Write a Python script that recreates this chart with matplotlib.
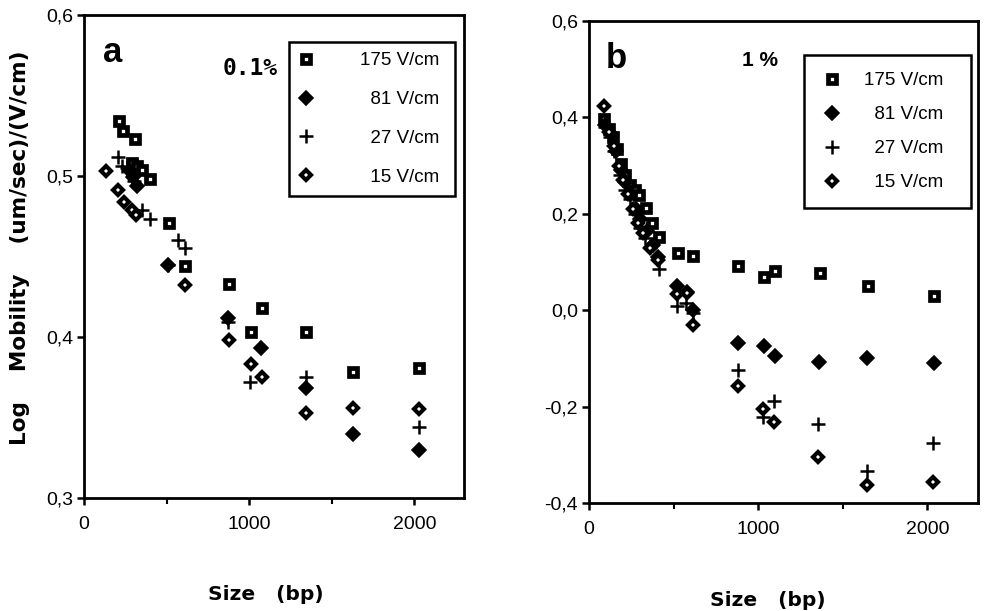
import matplotlib
matplotlib.use('Agg')
import matplotlib.pyplot as plt
from matplotlib.ticker import MultipleLocator, FuncFormatter

plt.rcParams['font.family'] = ['Liberation Sans', 'DejaVu Sans']

# ---- panel a : 0.1 % ----
a_175_bp = [212, 234, 289, 309, 319, 353, 402, 517, 612, 879, 1012, 1077, 1343, 1626, 2026]
a_175_mob = [0.534, 0.528, 0.508, 0.523, 0.506, 0.504, 0.498, 0.471, 0.444, 0.433, 0.403, 0.418, 0.403, 0.378, 0.381]

a_81_bp = [279, 297, 318, 511, 869, 1073, 1343, 1626, 2026]
a_81_mob = [0.503, 0.4996, 0.494, 0.445, 0.412, 0.393, 0.368, 0.340, 0.330]

a_27_bp = [208, 228, 262, 300, 350, 400, 511, 572, 612, 869, 1006, 1343, 2026]
a_27_mob = [0.512, 0.506, 0.505, 0.497, 0.479, 0.473, 0.445, 0.460, 0.455, 0.409, 0.372, 0.375, 0.344]

a_15_bp = [133, 204, 242, 289, 315, 612, 875, 1012, 1075, 1343, 1626, 2026]
a_15_mob = [0.503, 0.491, 0.484, 0.479, 0.476, 0.432, 0.398, 0.383, 0.375, 0.353, 0.356, 0.355]

# ---- panel b : 1 % ----
b_175_bp = [89, 118, 144, 167, 189, 215, 240, 270, 296, 335, 371, 414, 528, 617, 880, 1037, 1101, 1363, 1647, 2037]
b_175_mob = [0.397, 0.375, 0.360, 0.334, 0.303, 0.280, 0.260, 0.250, 0.239, 0.212, 0.181, 0.151, 0.118, 0.112,
             0.091, 0.069, 0.082, 0.078, 0.051, 0.029]

b_81_bp = [95, 130, 160, 190, 215, 245, 275, 300, 340, 380, 410, 518, 578, 614, 878, 1036, 1097, 1359, 1643, 2037]
b_81_mob = [0.385, 0.365, 0.330, 0.290, 0.265, 0.240, 0.210, 0.190, 0.165, 0.135, 0.111, 0.051, 0.037, 0.000,
            -0.069, -0.074, -0.096, -0.108, -0.100, -0.110]

b_27_bp = [92, 125, 150, 185, 210, 240, 270, 300, 330, 361, 414, 522, 572, 614, 878, 1031, 1095, 1355, 1641, 2034]
b_27_mob = [0.380, 0.360, 0.330, 0.280, 0.250, 0.230, 0.200, 0.170, 0.150, 0.131, 0.086, 0.008, 0.015, -0.005,
            -0.125, -0.221, -0.188, -0.237, -0.334, -0.276]

b_15_bp = [89, 120, 145, 175, 200, 230, 260, 290, 320, 360, 410, 522, 578, 614, 878, 1031, 1095, 1355, 1641, 2032]
b_15_mob = [0.424, 0.370, 0.340, 0.300, 0.270, 0.240, 0.210, 0.180, 0.160, 0.130, 0.105, 0.034, 0.036, -0.031,
            -0.158, -0.206, -0.232, -0.304, -0.363, -0.356]

labels = ['175 V/cm', '\u200781 V/cm', '\u200727 V/cm', '\u200715 V/cm']

# marker styles for the four field strengths (thick edges, tiny white centre like the scan)
styles = [
    dict(marker='s', ms=5.6, mfc='white', mec='black', mew=3.4),
    dict(marker='D', ms=7, mfc='black', mec='black', mew=1.2),
    dict(marker='+', ms=10, mec='black', mew=1.8),
    dict(marker='D', ms=5.0, mfc='white', mec='black', mew=3.0),
]

fig = plt.figure(figsize=(9.84, 6.11), dpi=100)
ax_a = fig.add_axes([0.0854, 0.185, 0.386, 0.7905])
ax_b = fig.add_axes([0.5986, 0.1768, 0.3953, 0.7889])

comma = FuncFormatter(lambda v, p: f'{v:.1f}'.replace('.', ','))


def setup(ax, ylim, ystep):
    ax.set_xlim(0, 2300)
    ax.set_ylim(*ylim)
    ax.xaxis.set_major_locator(MultipleLocator(1000))
    ax.xaxis.set_minor_locator(MultipleLocator(500))
    ax.yaxis.set_major_locator(MultipleLocator(ystep))
    ax.yaxis.set_major_formatter(comma)
    ax.tick_params(which='major', direction='out', length=5, width=1.8, labelsize=14)
    ax.tick_params(axis='y', pad=3)
    ax.tick_params(axis='x', pad=8)
    ax.tick_params(which='minor', direction='out', length=4, width=1.5)
    for s in ax.spines.values():
        s.set_linewidth(2)


def draw(ax, series, labs):
    for (x, y), st, lab in zip(series, styles, labs):
        ax.plot(x, y, ls='none', color='black', label=lab, **st)


def add_legend(ax, anchor, spacing, textpad, bpad, hlen):
    leg = ax.legend(loc='upper right', bbox_to_anchor=anchor, borderaxespad=0, fancybox=False,
                    edgecolor='black', fontsize=13.5, labelspacing=spacing, handletextpad=textpad,
                    borderpad=bpad, handlelength=hlen, numpoints=1, framealpha=1)
    leg.get_frame().set_linewidth(1.8)


draw(ax_a, [(a_175_bp, a_175_mob), (a_81_bp, a_81_mob), (a_27_bp, a_27_mob), (a_15_bp, a_15_mob)],
     [l + ' ' for l in labels])
setup(ax_a, (0.3, 0.6), 0.1)
add_legend(ax_a, (0.976, 0.944), 1.15, 2.45, 0.55, 0.8)

draw(ax_b, [(b_175_bp, b_175_mob), (b_81_bp, b_81_mob), (b_27_bp, b_27_mob), (b_15_bp, b_15_mob)],
     [l + '  ' for l in labels])
setup(ax_b, (-0.4, 0.6), 0.2)
add_legend(ax_b, (0.982, 0.929), 0.9, 1.1, 0.9, 1.2)

ax_a.text(0.076, 0.923, 'a', transform=ax_a.transAxes, fontsize=25, fontweight='bold', ha='center', va='center')
ax_a.text(0.437, 0.89, '0.1%', transform=ax_a.transAxes, fontsize=16.5, fontweight='bold', ha='center',
          va='center', family='DejaVu Sans Mono')
ax_b.text(0.069, 0.923, 'b', transform=ax_b.transAxes, fontsize=25, fontweight='bold', ha='center', va='center')
ax_b.text(0.44, 0.919, '1 %', transform=ax_b.transAxes, fontsize=15, fontweight='bold', ha='center', va='center')

fig.text(20 / 984, 1 - 248 / 611, 'Log    Mobility    (um/sec)/(V/cm)', rotation=90, fontsize=15.5,
         fontweight='bold', ha='center', va='center', family='DejaVu Sans')
fig.text(266 / 984, 1 - 595 / 611, 'Size   (bp)', fontsize=14.5, fontweight='bold', ha='center', va='center',
         family='DejaVu Sans')
fig.text(768 / 984, 1 - 600 / 611, 'Size   (bp)', fontsize=14.5, fontweight='bold', ha='center', va='center',
         family='DejaVu Sans')

fig.savefig('out.png', dpi=100)
